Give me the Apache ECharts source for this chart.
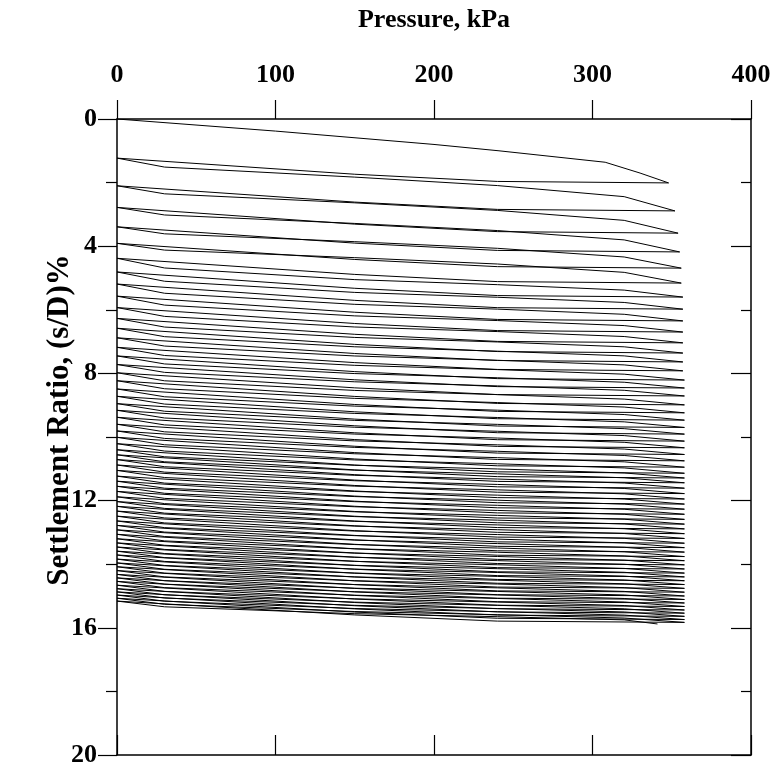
<!DOCTYPE html>
<html>
<head>
<meta charset="utf-8">
<script src="https://cdn.jsdelivr.net/npm/echarts@6/dist/echarts.min.js"></script>
<style>
html,body{margin:0;padding:0;background:#fff;}
#chart{width:777px;height:770px;}
</style>
</head>
<body>
<div id="chart"></div>
<script>
// ---- data ----
const xTicks = [0, 100, 200, 300, 400];
const yTicks = [0, 4, 8, 12, 16, 20];

// first loading curve (virgin loading), pressure kPa / settlement %
const firstLoadP = [0, 100, 200, 241, 308, 330, 348];
const firstLoadS = [0, 0.38, 0.80, 1.00, 1.36, 1.70, 2.01];

// settlement at the start of each loading (pressure = 0)
const startS = [0, 1.23, 2.10, 2.78, 3.39, 3.91, 4.38, 4.81, 5.19, 5.57,
  5.93, 6.27, 6.58, 6.88, 7.18, 7.45, 7.72, 7.98, 8.23, 8.49,
  8.72, 8.95, 9.16, 9.38, 9.60, 9.81, 10.01, 10.21, 10.40, 10.56,
  10.71, 10.88, 11.05, 11.23, 11.39, 11.55, 11.71, 11.88, 12.03, 12.18,
  12.33, 12.49, 12.64, 12.78, 12.92, 13.06, 13.20, 13.33, 13.46, 13.59,
  13.71, 13.84, 13.96, 14.08, 14.20, 14.32, 14.43, 14.54, 14.66, 14.77,
  14.87, 14.97, 15.07, 15.16];
// settlement at the end (peak) of each loading
const peakS = [2.01, 2.89, 3.59, 4.18, 4.69, 5.16, 5.60, 5.98, 6.35, 6.70,
  7.04, 7.36, 7.64, 7.92, 8.21, 8.46, 8.71, 8.99, 9.24, 9.47,
  9.70, 9.91, 10.13, 10.34, 10.55, 10.75, 10.95, 11.14, 11.29, 11.44,
  11.61, 11.78, 11.95, 12.11, 12.27, 12.43, 12.59, 12.74, 12.89, 13.04,
  13.19, 13.34, 13.48, 13.62, 13.76, 13.89, 14.02, 14.15, 14.28, 14.40,
  14.52, 14.64, 14.76, 14.88, 15.00, 15.11, 15.22, 15.33, 15.44, 15.54,
  15.64, 15.74, 15.83, 15.88];
// pressure at the end (peak) of each loading
const peakP = [348, 352, 354, 355, 356, 356, 357, 357, 357, 357,
  357, 357, 357, 357, 358, 358, 358, 358, 358, 358,
  358, 358, 358, 358, 358, 358, 358, 358, 358, 358,
  358, 358, 358, 358, 358, 358, 358, 358, 358, 358,
  358, 358, 358, 358, 358, 358, 358, 358, 358, 358,
  358, 358, 358, 358, 358, 358, 358, 358, 358, 358,
  358, 358, 358, 341];

// reloading curve shape read from the loops: pressure points and fraction of the rise
const reloadP = [0, 30, 150, 240, 320];
const reloadFracEarly = [0, 0.17, 0.36, 0.52, 0.73];
const reloadFracLate = [0, 0.25, 0.55, 0.68, 0.82];
// unloading curve shape: pressure points and fraction of the drop remaining
const unloadP = [240, 150, 0];
const unloadFrac = [0.94, 0.65, 0];

// ---- build the path ----
const path = [];
for (let i = 0; i < firstLoadP.length; i++) path.push([firstLoadP[i], firstLoadS[i]]);
for (let k = 0; k < peakS.length; k++) {
  if (k > 0) {
    const s0 = startS[k], s1 = peakS[k];
    const fr = k < 6 ? reloadFracEarly : reloadFracLate;
    for (let j = 0; j < reloadP.length; j++) {
      if (reloadP[j] < peakP[k]) path.push([reloadP[j], s0 + fr[j] * (s1 - s0)]);
    }
    path.push([peakP[k], s1]);
  }
  if (k + 1 < startS.length && k + 1 < peakS.length) {
    const top = peakS[k], nxt = startS[k + 1];
    for (let j = 0; j < unloadP.length; j++) {
      path.push([unloadP[j], nxt + unloadFrac[j] * (top - nxt)]);
    }
  }
}

const FONT = '"Liberation Serif", "Times New Roman", serif';
const labelStyle = { fontFamily: FONT, fontWeight: 'bold', fontSize: 26, color: '#000' };
const axisLineStyle = { show: true, onZero: false, lineStyle: { color: '#000', width: 1.5 } };

const chart = echarts.init(document.getElementById('chart'), null, { renderer: 'canvas' });
chart.setOption({
  animation: false,
  backgroundColor: '#fff',
  grid: { left: 117, right: 26, top: 119, bottom: 15, containLabel: false },
  xAxis: [
    {
      type: 'value', position: 'top', min: 0, max: 400, interval: 100,
      name: 'Pressure, kPa', nameLocation: 'middle', nameGap: 86, nameMoveOverlap: false,
      nameTextStyle: { fontFamily: FONT, fontWeight: 'bold', fontSize: 26, color: '#000' },
      axisLine: axisLineStyle,
      axisTick: { show: true, inside: false, length: 19, lineStyle: { color: '#000', width: 1.2 } },
      axisLabel: Object.assign({ margin: 31, formatter: v => xTicks.includes(v) ? String(v) : '' }, labelStyle),
      splitLine: { show: false }
    },
    {
      type: 'value', position: 'bottom', min: 0, max: 400, interval: 100,
      axisLine: axisLineStyle,
      axisTick: { show: true, inside: true, length: 20, lineStyle: { color: '#000', width: 1.2 } },
      axisLabel: { show: false },
      splitLine: { show: false }
    }
  ],
  yAxis: [
    {
      type: 'value', position: 'left', inverse: true, min: 0, max: 20, interval: 4,
      name: 'Settlement Ratio, (s/D)%', nameLocation: 'middle', nameGap: 42, nameRotate: 90,
      nameMoveOverlap: false,
      nameTextStyle: { fontFamily: FONT, fontWeight: 'bold', fontSize: 31, color: '#000', padding: [0, 0, 0, 34] },
      axisLine: axisLineStyle,
      axisTick: { show: true, inside: false, length: 19, lineStyle: { color: '#000', width: 1.2 } },
      minorTick: { show: true, splitNumber: 2, length: 11, lineStyle: { color: '#000', width: 1.2 } },
      axisLabel: Object.assign({ margin: 20, formatter: v => yTicks.includes(v) ? String(v) : '' }, labelStyle),
      splitLine: { show: false }
    },
    {
      type: 'value', position: 'right', inverse: true, min: 0, max: 20, interval: 4,
      axisLine: axisLineStyle,
      axisTick: { show: true, inside: true, length: 20, lineStyle: { color: '#000', width: 1.2 } },
      minorTick: { show: true, splitNumber: 2, length: 10, lineStyle: { color: '#000', width: 1.2 } },
      axisLabel: { show: false },
      splitLine: { show: false }
    }
  ],
  series: [
    {
      type: 'line', xAxisIndex: 0, yAxisIndex: 0,
      data: path, showSymbol: false, symbol: 'none', smooth: false,
      lineStyle: { color: '#000', width: 1 }
    },
    {
      type: 'line', xAxisIndex: 1, yAxisIndex: 1,
      data: [[0, 0]], showSymbol: false, symbol: 'none',
      lineStyle: { opacity: 0 }, silent: true
    }
  ]
});
</script>
</body>
</html>
